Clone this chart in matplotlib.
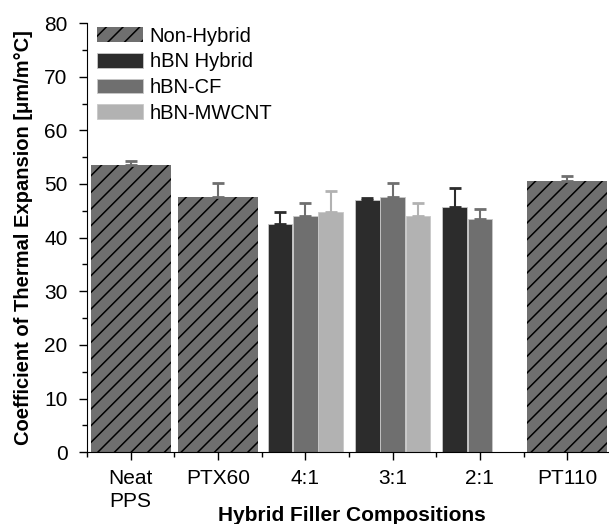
import numpy as np
import matplotlib
matplotlib.use("Agg")
import matplotlib.pyplot as plt
from matplotlib.ticker import MultipleLocator

plt.rcParams['font.family'] = ['Liberation Sans', 'DejaVu Sans']
plt.rcParams['hatch.linewidth'] = 1.1

# Data
categories = ['Neat\nPPS', 'PTX60', '4:1', '3:1', '2:1', 'PT110']

nonhybrid_pos = [1, 2, 6]
nonhybrid_val = [53.5, 47.5, 50.5]
nonhybrid_err = [0.8, 2.7, 1.0]

hbn_pos = [3, 4, 5]
hbn_val = [42.5, 47.0, 45.7]
hbn_err = [2.3, 0.4, 3.5]

cf_pos = [3, 4, 5]
cf_val = [44.0, 47.5, 43.4]
cf_err = [2.4, 2.7, 1.9]

mwcnt_pos = [3, 4]
mwcnt_val = [44.8, 44.0]
mwcnt_err = [3.9, 2.4]

fig = plt.figure(figsize=(6.09, 5.24), dpi=100)
ax = fig.add_axes([0.143, 0.137, 0.86, 0.819])

w = 0.28
off = 0.29

def draw(pos, val, err, color, label, width, shift=0.0, hatch=None):
    pos = np.array(pos) + shift
    if hatch:
        ax.bar(pos, val, width=width, color=color, edgecolor='black',
               linewidth=0, hatch=hatch, label=label)
    else:
        ax.bar(pos, val, width=width, color=color, edgecolor='#c8c8c8',
               linewidth=0.6, label=label)
    ax.errorbar(pos, val, yerr=[np.zeros(len(err)), err], fmt='none',
                ecolor=color, elinewidth=1.5, capsize=4, capthick=2)

draw(nonhybrid_pos, nonhybrid_val, nonhybrid_err, '#6f6f6f', 'Non-Hybrid', 0.92, hatch='//')
draw(hbn_pos, hbn_val, hbn_err, '#2c2c2c', 'hBN Hybrid', w, -off)
draw(cf_pos, cf_val, cf_err, '#6f6f6f', 'hBN-CF', w, 0)
draw(mwcnt_pos, mwcnt_val, mwcnt_err, '#b2b2b2', 'hBN-MWCNT', w, off)

ax.set_xlim(0.5, 6.5)
ax.set_ylim(0, 80)
ax.set_xticks(range(1, 7))
ax.set_xticklabels(categories, fontsize=15, linespacing=1.3)
ax.set_xticks(np.arange(0.5, 7, 1), minor=True)
ax.yaxis.set_major_locator(MultipleLocator(10))
ax.yaxis.set_minor_locator(MultipleLocator(5))
ax.tick_params(axis='both', which='major', direction='out', length=6, width=1, labelsize=15)
ax.tick_params(axis='x', which='major', pad=6)
ax.tick_params(axis='y', which='major', pad=8)
ax.tick_params(axis='both', which='minor', direction='out', length=3.5, width=1)

for s in ['top', 'right']:
    ax.spines[s].set_visible(False)

ax.set_ylabel('Coefficient of Thermal Expansion [μm/m°C]', fontsize=14.5,
              fontweight='bold', labelpad=8)
ax.set_xlabel('Hybrid Filler Compositions', fontsize=15, fontweight='bold')
ax.xaxis.set_label_coords(0.505, -0.147)
ax.xaxis.label.set_va('center')

ax.legend(loc='upper left', bbox_to_anchor=(0.0, 1.015), frameon=False, fontsize=14.5,
          handlelength=2.3, handleheight=0.75, labelspacing=0.33, handletextpad=0.3,
          borderaxespad=0.3, borderpad=0.2)

fig.savefig('out.png', dpi=100)
